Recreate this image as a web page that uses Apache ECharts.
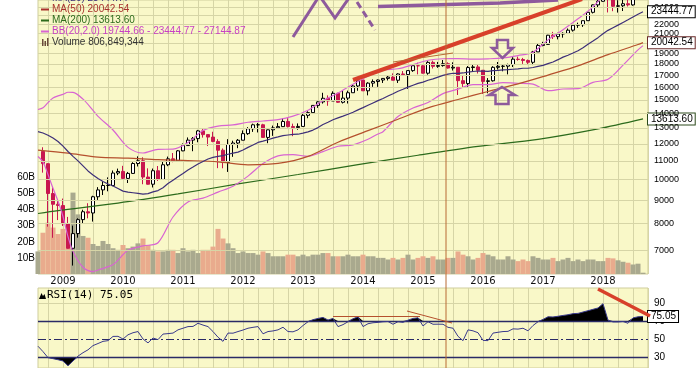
<!DOCTYPE html>
<html>
<head>
<meta charset="utf-8">
<script src="https://cdn.jsdelivr.net/npm/echarts@6.0.0/dist/echarts.min.js"></script>
<style>
html,body{margin:0;padding:0;background:#ffffff;}
#chart{width:700px;height:368px;}
</style>
</head>
<body>
<div id="chart"></div>
<script>
// ---------- categories: monthly, Aug 2008 .. Oct 2018 ----------
const months = [];
(function () { let y = 2008, m = 8; while (!(y === 2018 && m === 11)) { months.push(y + '-' + (m < 10 ? '0' : '') + m); m++; if (m > 12) { m = 1; y++; } } })();

// ---------- tick labels ----------
const priceTicks = [7000, 8000, 9000, 10000, 11000, 12000, 13000, 14000, 15000, 16000, 17000, 18000, 19000, 20000, 21000, 22000, 23000, 24000, 25000];
const volTickLabels = ['10B', '20B', '30B', '40B', '50B', '60B'];

// ---------- monthly candles [open, close, low, high], Sep 2008 .. Sep 2018 ----------
const ohlc = [
 [11543,10851,10365,11790],[10847,9325,7882,10882],[9325,8829,7449,9654],[8829,8776,8149,9026],
 [8772,8001,7909,9088],[8000,7063,7050,8281],[7063,7609,6470,7924],[7609,8168,7453,8222],[8168,8500,8022,8588],[8500,8447,8221,8877],
 [8447,9172,8087,9219],[9172,9496,9025,9630],[9496,9712,9253,9918],[9712,9713,9430,10119],[9713,10345,9678,10480],[10345,10428,10235,10580],
 [10430,10067,10024,10730],[10067,10325,9835,10402],[10325,10857,10299,10928],[10857,11009,10695,11258],[11009,10137,9774,11205],[10137,9774,9758,10594],
 [9774,10466,9614,10583],[10466,10015,9937,10720],[10015,10788,9990,10948],[10788,11118,10712,11245],[11118,11006,10929,11451],[11006,11578,11006,11625],
 [11577,11892,11555,12020],[11892,12226,11892,12391],[12226,12320,11555,12419],[12320,12811,12093,12876],[12811,12570,12381,12928],[12570,12414,11862,12570],
 [12414,12143,12093,12753],[12143,11614,10604,12284],[11614,10913,10597,11717],[10913,11955,10404,12284],[11955,12046,11231,12188],[12046,12218,11735,12294],
 [12218,12633,12218,12841],[12633,12952,12553,13055],[12952,13212,12746,13289],[13212,13214,12710,13338],[13214,12393,12391,13280],[12393,12880,12035,12898],
 [12880,13009,12492,13160],[13009,13091,12995,13330],[13091,13437,13064,13653],[13437,13096,13035,13662],[13096,13026,12471,13290],[13026,13104,12884,13305],
 [13104,13861,13104,13970],[13861,14054,13661,14150],[14054,14579,14054,14585],[14579,14840,14397,14888],[14840,15116,14712,15542],[15116,14910,14551,15340],
 [14910,15500,14910,15658],[15500,14810,14760,15543],[14810,15130,14719,15710],[15130,15546,14720,15710],[15546,16086,15545,16174],[16086,16577,15703,16588],
 [16577,15699,15699,16588],[15699,16322,15341,16398],[16322,16458,16017,16631],[16458,16581,16015,16631],[16581,16717,16334,16736],[16717,16827,16544,16978],
 [16827,16563,16563,17151],[16563,17098,16334,17153],[17098,17043,16945,17350],[17043,17391,15855,17395],[17391,17828,17284,17895],[17828,17823,17067,18103],
 [17823,17165,17136,17951],[17165,18133,17037,18244],[18133,17776,17579,18289],[17776,17841,17639,18175],[17841,18011,17744,18351],[18011,17620,17576,18137],
 [17620,17690,17399,18138],[17690,16528,15370,17705],[16528,16285,15942,16933],[16285,17664,16013,17799],[17664,17720,17320,17978],[17720,17425,17139,17896],
 [17425,16466,15450,17425],[16466,16517,15503,16743],[16517,17685,16452,17790],[17685,17774,17485,18167],[17774,17787,17331,17934],[17787,17930,17063,18016],
 [17930,18432,17713,18622],[18432,18401,18288,18668],[18401,18308,17992,18549],[18308,18142,17888,18399],[18142,19124,17884,19225],[19124,19763,19115,19987],
 [19763,19864,19677,20126],[19864,20812,19832,20851],[20812,20663,20413,21169],[20663,20941,20379,21071],[20941,21009,20554,21112],[21009,21350,20996,21535],
 [21350,21891,21197,21929],[21891,21948,21600,22179],[21948,22405,21709,22420],[22405,23377,22405,23485],[23377,24272,23242,24328],[24272,24719,23921,24876],
 [24719,26149,24659,26617],[26149,25029,23360,26307],[25029,24103,23509,25450],[24103,24163,23344,24858],[24163,24416,23531,25087],[24416,24271,24077,25403],
 [24271,25415,24174,25552],[25415,25965,25124,26168],[25965,25996,25820,26057]
];

// ---------- monthly volume (billions), Aug 2008 .. Sep 2018 ----------
const volumeB = [
 14, 25.6, 31.9, 28.8, 24.8,
 28, 25.6, 50.5, 37, 23.6, 22.5, 18.6, 17.4, 20.5, 18.6, 16, 15,
 18, 16, 17, 19, 22, 18, 15, 14, 14, 15, 15, 13,
 16, 14, 15, 13, 15, 15, 17, 28, 22, 19, 16, 13,
 14, 13, 13, 12, 14, 13, 11, 11, 11, 12, 12, 11,
 12, 11, 12, 12, 13, 13, 11, 11, 11, 12, 11, 11,
 12, 11, 11, 10, 10, 9, 10, 9, 10, 12, 9, 10,
 11, 10, 11, 9, 9, 10, 10, 14, 12, 11, 9, 10,
 13, 12, 11, 9, 9, 11, 9, 8, 9, 8, 11, 10,
 9, 9, 10, 8, 9, 10, 8, 9, 8, 9, 9, 8,
 8, 10, 9.7, 8.5, 7.6, 7, 5.9, 6.4, 0.807
];

// ---------- MA(20) = BB middle, Aug 2008 .. Sep 2018 ----------
const ma20 = [
 12764, 12676, 12529, 12352, 12138,
 11857, 11539, 11259, 11000, 10730, 10456, 10246, 10057, 9910, 9783, 9687, 9567,
 9439, 9387, 9361, 9335, 9299, 9321, 9403, 9465, 9605, 9807, 9977, 10148,
 10317, 10506, 10664, 10829, 10972, 11107, 11197, 11257, 11299, 11380, 11440, 11500,
 11625, 11784, 11921, 12081, 12161, 12250, 12350, 12425, 12503, 12546, 12581, 12596,
 12661, 12743, 12864, 13026, 13236, 13384, 13556, 13686, 13811, 13940, 14084, 14252,
 14418, 14590, 14762, 14937, 15101, 15287, 15464, 15664, 15823, 15990, 16152, 16301,
 16404, 16565, 16679, 16830, 16974, 17078, 17158, 17156, 17185, 17252, 17315, 17357,
 17345, 17329, 17385, 17419, 17456, 17483, 17514, 17543, 17600, 17600, 17668, 17764,
 17856, 18016, 18165, 18385, 18621, 18806, 19014, 19240, 19537, 19880, 20210, 20557,
 20975, 21330, 21614, 21902, 22207, 22513, 22828, 23138, 23444.77
];

// ---------- Bollinger bands [month, value] ----------
const bbUpper = [['2008-08',14276],['2008-09',14404],['2008-10',14789],['2008-11',15130],['2008-12',15298],['2009-01',15415],['2009-02',15585],['2009-03',15569],['2009-05',15046],['2009-07',14216],['2009-08',13787],['2009-11',12871],['2010-02',11783],['2010-05',11451],['2010-08',11665],['2010-11',11677],['2011-02',12076],['2011-05',12838],['2011-08',13123],['2011-11',13202],['2012-02',13384],['2012-05',13469],['2012-08',13565],['2012-11',13805],['2013-02',14225],['2013-05',14942],['2013-08',15520],['2013-11',16232],['2014-02',16902],['2014-05',17443],['2014-08',17554],['2014-11',17922],['2015-02',18333],['2015-05',18472],['2015-08',18474],['2015-11',18429],['2016-02',18465],['2016-05',18546],['2016-08',18773],['2016-11',19094],['2017-02',20326],['2017-05',21399],['2017-08',22614],['2017-11',24032],['2018-02',26016],['2018-05',26533],['2018-08',26956],['2018-09',27144.87]];
const bbLower = [['2008-08',11252],['2008-09',10948],['2008-10',10269],['2008-11',9574],['2008-12',8978],['2009-01',8299],['2009-02',7493],['2009-03',6949],['2009-05',6414],['2009-07',6276],['2009-08',6327],['2009-11',6503],['2010-02',6991],['2010-05',7147],['2010-08',7265],['2010-11',8277],['2011-02',8936],['2011-05',9106],['2011-08',9391],['2011-11',9678],['2012-02',10184],['2012-05',10853],['2012-08',11285],['2012-11',11357],['2013-02',11261],['2013-05',11530],['2013-08',11852],['2013-11',11936],['2014-02',12278],['2014-04',12613],['2014-05',12759],['2014-08',13774],['2014-11',14382],['2015-02',14797],['2015-05',15476],['2015-08',15838],['2015-11',16201],['2016-02',16193],['2016-05',16366],['2016-08',16313],['2016-11',16242],['2017-02',15706],['2017-05',15843],['2017-08',15866],['2017-11',16388],['2018-02',16644],['2018-05',17881],['2018-08',19320],['2018-09',19744.66]];
const ma50 = [['2008-08',11619],['2009-02',11443],['2009-08',11217],['2010-02',11156],['2010-08',11068],['2011-02',11020],['2011-08',10950],['2012-02',10784],['2012-08',10860],['2013-02',11258],['2013-08',12097],['2014-02',12827],['2014-08',13588],['2015-02',14397],['2015-08',15021],['2016-02',15645],['2016-08',16259],['2017-02',17004],['2017-08',17813],['2018-02',18859],['2018-08',19854],['2018-09',20042.54]];
const ma200 = [['2008-08',8426],['2008-12',8549],['2009-12',8882],['2010-12',9303],['2011-12',9787],['2012-12',10268],['2013-12',10796],['2014-12',11323],['2015-12',11838],['2016-12',12272],['2017-12',12941],['2018-09',13613.60]];

// ---------- RSI(14), Aug 2008 .. Sep 2018 ----------
const rsi = [
 42, 36, 29.3, 28.2, 27,
 25.6, 20.2, 25.6, 31, 34.8, 38, 42.7, 45, 47.4, 48.2, 52.9, 53,
 50, 54.7, 57, 58.3, 50, 45.7, 51.1, 49.3, 55.5, 56, 56.6, 60.2,
 62, 63.8, 64, 67.5, 65.5, 63.8, 58.3, 52, 47.4, 56.6, 56.5, 58.3,
 60, 62, 63, 63.8, 55.8, 58.3, 59, 60.2, 63.1, 58.3, 58, 60.2,
 65, 69.2, 71.5, 72.9, 74, 71.1, 72.9, 63.8, 66, 69.2, 72.5, 74.7,
 63.8, 67, 68.1, 68.5, 69.2, 69.5, 66.4, 69.2, 68.5, 71, 72.9, 73.6,
 64.5, 69.2, 66.4, 66.5, 66.4, 63, 62, 53, 48.2, 60.2, 59.1, 57,
 48.5, 48.2, 56.6, 57.5, 58.3, 58.5, 61.3, 61, 62, 59.1, 65, 69.2,
 71.8, 74.7, 74.5, 75.3, 76.2, 77, 78.2, 78.5, 80, 81.5, 83, 84.5,
 89.3, 71, 69, 69, 69.5, 67.5, 73.5, 74.7, 75.05
];

// ---------- styles ----------
const C = {
  panel: '#f9f8c8', grid: '#d6d5a6', ma20: '#3d2f78', bb: '#d864d2', ma50: '#b5502d', ma200: '#2c6b1c',
  down: '#c8174f', volDown: '#e9ab8d', volUp: '#a9a98e', rsi: '#3a3a8c', annot: '#8e5a9c', red: '#d8402a', brown: '#b86a34'
};
const FONT = 'Liberation Sans, Arial, sans-serif';

// ---------- build library data ----------
const candleData = [['-','-','-','-']].concat(ohlc).concat([['-','-','-','-']]);
const volData = volumeB.map((v, i) => {
  const c = ohlc[i - 1];
  const down = c ? c[1] < c[0] : false;
  return { value: v * 1e9, itemStyle: { color: down ? C.volDown : C.volUp } };
});
const rsiFull = rsi.concat([null]);
const hiBase = rsiFull.map(v => v == null ? null : 70);
const hiExcess = rsiFull.map(v => v == null ? null : Math.max(v - 70, 0));
const loBase = rsiFull.map(v => v == null ? null : Math.min(v, 30));
const loExcess = rsiFull.map(v => v == null ? null : 30 - Math.min(v, 30));
const quarterly = (i, v) => ['01', '04', '07', '10'].indexOf(String(v).slice(5)) >= 0;

function boxLabel(text, border) {
  return { show: true, formatter: () => text, distance: 5, color: '#000', fontSize: 10, fontFamily: FONT,
    backgroundColor: '#ffffff', borderColor: border, borderWidth: 1, padding: [1, 2, 0, 3] };
}

const chart = echarts.init(document.getElementById('chart'), null, { renderer: 'canvas' });
chart.setOption({
  animation: false,
  backgroundColor: '#ffffff',
  grid: [
    { left: 38, right: 52, top: 0, bottom: 94, show: true, backgroundColor: C.panel, borderColor: '#cfcd9c', borderWidth: 1 },
    { left: 38, right: 52, top: 288, bottom: 0, show: true, backgroundColor: C.panel, borderColor: '#cfcd9c', borderWidth: 1 }
  ],
  xAxis: [
    { type: 'category', gridIndex: 0, data: months, boundaryGap: false,
      axisLine: { show: false }, axisTick: { show: false },
      axisLabel: { interval: (i, v) => String(v).slice(5) === '01', formatter: v => v.slice(0, 4), margin: 2,
        fontSize: 10, fontFamily: 'DejaVu Sans, sans-serif', color: '#111' },
      splitLine: { show: true, interval: quarterly, lineStyle: { color: C.grid, width: 1 } } },
    { type: 'category', gridIndex: 1, data: months, boundaryGap: false,
      axisLine: { show: false }, axisTick: { show: false }, axisLabel: { show: false },
      splitLine: { show: true, interval: quarterly, lineStyle: { color: C.grid, width: 1 } } }
  ],
  yAxis: [
    { type: 'log', gridIndex: 0, min: 6199, max: 24882, position: 'right',
      axisLine: { show: false }, axisTick: { show: false }, axisLabel: { show: false }, splitLine: { show: false } },
    { type: 'value', gridIndex: 0, min: 0, max: 170e9, interval: 10e9, position: 'left',
      axisLine: { show: false }, axisTick: { show: false }, splitLine: { show: false },
      axisLabel: { margin: 3, fontSize: 10, fontFamily: FONT, color: '#000',
        formatter: v => { const k = Math.round(v / 1e9); return (k >= 10 && k <= 60) ? volTickLabels[k / 10 - 1] : ''; } } },
    { type: 'value', gridIndex: 1, min: 17.8, max: 106.7, position: 'right',
      axisLine: { show: false }, axisTick: { show: false }, axisLabel: { show: false }, splitLine: { show: false } }
  ],
  series: [
    { type: 'line', xAxisIndex: 0, yAxisIndex: 0, data: months.map(() => null), z: 1, silent: true,
      markLine: { silent: true, symbol: ['none', 'none'], animation: false,
        lineStyle: { color: C.grid, width: 1, type: 'solid' },
        label: { position: 'end', distance: 6, color: '#000', fontSize: 9, fontFamily: FONT },
        data: priceTicks.map(v => ({ yAxis: v, label: { formatter: String(v) } })) } },
    { type: 'bar', name: 'Volume', xAxisIndex: 0, yAxisIndex: 1, data: volData, barCategoryGap: '0%', barWidth: 5, z: 2,
      markLine: { silent: true, symbol: ['none', 'none'], lineStyle: { opacity: 0 },
        label: Object.assign(boxLabel('80684934', '#3a4a30'), { position: 'end', distance: 3 }),
        data: [{ yAxis: volumeB[volumeB.length - 1] * 1e9 }] } },
    { type: 'candlestick', name: 'Price', xAxisIndex: 0, yAxisIndex: 0, data: candleData, barWidth: 4, z: 3,
      itemStyle: { color: '#ffffff', color0: C.down, borderColor: '#000000', borderColor0: C.down, borderWidth: 1 } },
    { type: 'line', name: 'MA(200)', xAxisIndex: 0, yAxisIndex: 0, data: ma200, symbol: 'none', smooth: 0.3, z: 4,
      lineStyle: { color: C.ma200, width: 1.2 }, endLabel: boxLabel('13613.60', '#2c4a1c') },
    { type: 'line', name: 'MA(50)', xAxisIndex: 0, yAxisIndex: 0, data: ma50, symbol: 'none', smooth: 0.3, z: 5,
      lineStyle: { color: C.ma50, width: 1.2 }, endLabel: boxLabel('20042.54', '#6a2a2a') },
    { type: 'line', name: 'BB lower', xAxisIndex: 0, yAxisIndex: 0, data: bbLower, symbol: 'none', smooth: 0.3, z: 4,
      lineStyle: { color: C.bb, width: 1.2 } },
    { type: 'line', name: 'BB upper', xAxisIndex: 0, yAxisIndex: 0, data: bbUpper, symbol: 'none', smooth: 0.3, z: 4,
      lineStyle: { color: C.bb, width: 1.2 } },
    { type: 'line', name: 'MA(20)', xAxisIndex: 0, yAxisIndex: 0, data: ma20.concat([null]), symbol: 'none', z: 6,
      lineStyle: { color: C.ma20, width: 1.2 }, endLabel: boxLabel('23444.77', '#000000') },
    { type: 'line', xAxisIndex: 1, yAxisIndex: 2, data: months.map(() => null), z: 1, silent: true,
      markLine: { silent: true, symbol: ['none', 'none'],
        label: { position: 'end', distance: 6, color: '#000', fontSize: 10, fontFamily: FONT },
        data: [
          { yAxis: 90, lineStyle: { color: C.grid, width: 1, type: 'solid' }, label: { formatter: '90' } },
          { yAxis: 70, lineStyle: { color: '#2a2a66', width: 1.3, type: 'solid' }, label: { formatter: '70' } },
          { yAxis: 50, lineStyle: { color: '#2a2a66', width: 1.2, type: [8, 3, 2, 3] }, label: { formatter: '50' } },
          { yAxis: 30, lineStyle: { color: '#2a2a66', width: 1.3, type: 'solid' }, label: { formatter: '30' } }
        ] } },
    { type: 'line', xAxisIndex: 1, yAxisIndex: 2, data: hiBase, stack: 'hi', symbol: 'none', lineStyle: { opacity: 0 }, z: 2, silent: true },
    { type: 'line', xAxisIndex: 1, yAxisIndex: 2, data: hiExcess, stack: 'hi', symbol: 'none', lineStyle: { opacity: 0 }, areaStyle: { color: '#000', opacity: 1 }, z: 2, silent: true },
    { type: 'line', xAxisIndex: 1, yAxisIndex: 2, data: loBase, stack: 'lo', symbol: 'none', lineStyle: { opacity: 0 }, z: 2, silent: true },
    { type: 'line', xAxisIndex: 1, yAxisIndex: 2, data: loExcess, stack: 'lo', symbol: 'none', lineStyle: { opacity: 0 }, areaStyle: { color: '#000', opacity: 1 }, z: 2, silent: true },
    { type: 'line', name: 'RSI(14)', xAxisIndex: 1, yAxisIndex: 2, data: rsiFull, symbol: 'none', z: 5,
      lineStyle: { color: C.rsi, width: 1 }, endLabel: boxLabel('75.05', '#000000') }
  ],
  graphic: [
    { type: 'line', shape: { x1: 41, y1: -2, x2: 49, y2: -2 }, style: { stroke: C.ma20, lineWidth: 2 }, z: 50 },
    { type: 'text', x: 52, y: -2, style: { text: 'MA(20) 23444.77', fill: C.ma20, font: '10px ' + FONT, verticalAlign: 'middle' }, z: 50 },
    { type: 'line', shape: { x1: 41, y1: 9.5, x2: 49, y2: 9.5 }, style: { stroke: '#a8322d', lineWidth: 2 }, z: 50 },
    { type: 'text', x: 52, y: 9.5, style: { text: 'MA(50) 20042.54', fill: '#a8322d', font: '10px ' + FONT, verticalAlign: 'middle' }, z: 50 },
    { type: 'line', shape: { x1: 41, y1: 20.5, x2: 49, y2: 20.5 }, style: { stroke: C.ma200, lineWidth: 2 }, z: 50 },
    { type: 'text', x: 52, y: 20.5, style: { text: 'MA(200) 13613.60', fill: C.ma200, font: '10px ' + FONT, verticalAlign: 'middle' }, z: 50 },
    { type: 'line', shape: { x1: 41, y1: 31.5, x2: 49, y2: 31.5 }, style: { stroke: C.bb, lineWidth: 2 }, z: 50 },
    { type: 'text', x: 52, y: 31.5, style: { text: 'BB(20,2.0) 19744.66 - 23444.77 - 27144.87', fill: '#c840c4', font: '10px ' + FONT, verticalAlign: 'middle' }, z: 50 },
    { type: 'rect', shape: { x: 42, y: 39, width: 1.5, height: 7 }, style: { fill: '#6a4a3a' }, z: 50 },
    { type: 'rect', shape: { x: 44.5, y: 41, width: 1.5, height: 5 }, style: { fill: '#6a4a3a' }, z: 50 },
    { type: 'rect', shape: { x: 47, y: 38, width: 1.5, height: 8 }, style: { fill: '#6a4a3a' }, z: 50 },
    { type: 'text', x: 52, y: 42, style: { text: 'Volume 806,849,344', fill: '#333', font: '10px ' + FONT, verticalAlign: 'middle' }, z: 50 },
    { type: 'polygon', shape: { points: [[39, 299], [41.5, 293], [43, 296], [44.5, 294], [46, 299]] }, style: { fill: '#000' }, z: 50 },
    { type: 'text', x: 47, y: 295.5, style: { text: 'RSI(14) 75.05', fill: '#000', font: '11px DejaVu Sans Mono, monospace', verticalAlign: 'middle' }, z: 50 },
    { type: 'polyline', shape: { points: [[293, 37], [318, -2]] }, style: { stroke: C.annot, lineWidth: 3 }, z: 60 },
    { type: 'polyline', shape: { points: [[321, -2], [335, 18], [349, -2]] }, style: { stroke: C.annot, lineWidth: 3 }, z: 60 },
    { type: 'line', shape: { x1: 357, y1: 2, x2: 375, y2: 30 }, style: { stroke: C.annot, lineWidth: 3, lineDash: [7, 4] }, z: 60 },
    { type: 'polyline', shape: { points: [[378, 6.5], [500, 3], [558, 0]] }, style: { stroke: C.annot, lineWidth: 3.5 }, z: 60 },
    { type: 'polygon', shape: { points: [[497, 40], [508, 40], [508, 48], [513, 48], [502.5, 58], [492, 48], [497, 48]] }, style: { fill: 'rgba(0,0,0,0)', stroke: C.annot, lineWidth: 2.5 }, z: 60 },
    { type: 'polygon', shape: { points: [[502, 87], [515, 95], [508.5, 95], [508.5, 104], [495.5, 104], [495.5, 95], [489, 95]] }, style: { fill: 'rgba(0,0,0,0)', stroke: C.annot, lineWidth: 2.5 }, z: 60 },
    { type: 'line', shape: { x1: 353, y1: 80, x2: 582, y2: -1 }, style: { stroke: C.red, lineWidth: 4 }, z: 60 },
    { type: 'line', shape: { x1: 393, y1: 62, x2: 453, y2: 53 }, style: { stroke: C.brown, lineWidth: 1 }, z: 60 },
    { type: 'line', shape: { x1: 446, y1: 0, x2: 446, y2: 368 }, style: { stroke: C.brown, lineWidth: 1 }, z: 60 },
    { type: 'line', shape: { x1: 333, y1: 316.5, x2: 420, y2: 316.5 }, style: { stroke: C.ma50, lineWidth: 1 }, z: 60 },
    { type: 'line', shape: { x1: 407, y1: 311, x2: 452, y2: 323 }, style: { stroke: C.ma50, lineWidth: 1 }, z: 60 },
    { type: 'line', shape: { x1: 598, y1: 289, x2: 650, y2: 316 }, style: { stroke: C.red, lineWidth: 3.5 }, z: 60 }
  ]
});
</script>
</body>
</html>
